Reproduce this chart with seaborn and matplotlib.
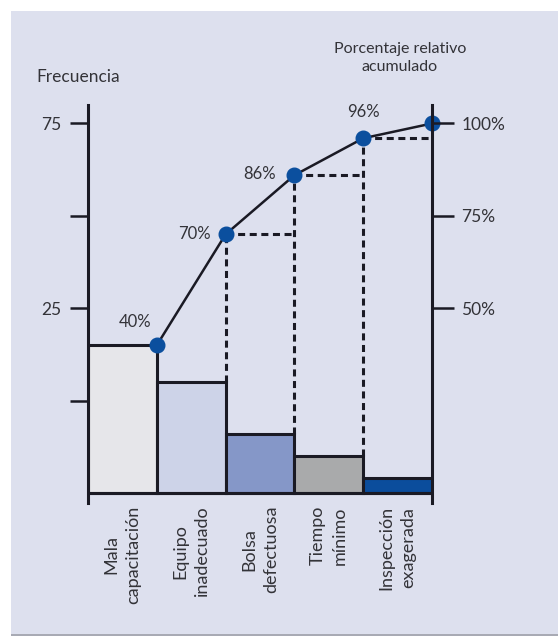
import matplotlib
matplotlib.use("Agg")
import matplotlib.pyplot as plt
from matplotlib.patches import Rectangle
import seaborn as sns
import numpy as np
import pandas as pd

# Pareto data: causes, relative share (%) and cumulative share (%)
causas = ["Mala\ncapacitación", "Equipo\ninadecuado", "Bolsa\ndefectuosa",
          "Tiempo\nmínimo", "Inspección\nexagerada"]
porcentaje = [40, 30, 16, 10, 4]
acumulado = [40, 70, 86, 96, 100]
etiquetas_acum = ["40%", "70%", "86%", "96%", ""]
colores = ["#e6e6ea", "#cdd3e8", "#8597c8", "#a9aaab", "#0b4d9c"]

ticks_pos = [100, 75, 50, 25]
ticks_frec = ["75", "", "25", ""]
ticks_der_pos = [100, 75, 50]
ticks_der = ["100%", "75%", "50%"]

sns.set_theme(style="white")
plt.rcParams["font.family"] = ["Lato", "DejaVu Sans"]

W, H = 558, 637
fig = plt.figure(figsize=(W / 100, H / 100), dpi=100, facecolor="white")

# panel background
fig.patches.append(Rectangle((11 / W, 3 / H), 1, 623 / H, transform=fig.transFigure,
                             facecolor="#dde0ee", edgecolor="none", zorder=-2))
fig.patches.append(Rectangle((11 / W, 1.5 / H), 1, 1.8 / H, transform=fig.transFigure,
                             facecolor="#a8aab4", edgecolor="none", zorder=-2))

ax = fig.add_axes([88 / W, 134 / H, 344 / W, 398 / H])
ax.set_facecolor("none")

ink = "#1a1a24"
txt = "#333338"

df = pd.DataFrame({"causa": causas, "pct": porcentaje})
sns.barplot(data=df, x="causa", y="pct", hue="causa", palette=colores, legend=False,
            saturation=1, width=1.0, edgecolor=ink, linewidth=2.2, ax=ax, zorder=2)

n = len(causas)
xr = np.arange(n) + 0.5

# dashed guides from each cumulative point
for i in range(1, n - 1):
    ax.plot([xr[i], xr[i]], [porcentaje[i], acumulado[i]], color=ink, lw=2.2,
            ls=(0, (2.3, 1.5)), zorder=3)
    ax.plot([xr[i], xr[i + 1]], [acumulado[i], acumulado[i]], color=ink, lw=2.2,
            ls=(0, (2.3, 1.5)), zorder=3)

# cumulative curve
ax.plot(xr, acumulado, color=ink, lw=1.8, zorder=4)
ax.plot(xr, acumulado, ls="none", marker="o", ms=10.5, mfc="#0b4f9e", mec="#0b4f9e",
        zorder=5, clip_on=False)

offsets = [(-4, 11), (-11, 0), (-13, 1), (0, 13), (0, 0)]
aligns = [("right", "bottom"), ("right", "center"), ("right", "center"),
          ("center", "bottom"), ("center", "center")]
for x, y, lab, off, (ha, va) in zip(xr, acumulado, etiquetas_acum, offsets, aligns):
    if lab:
        ax.annotate(lab, (x, y), xytext=off, textcoords="offset points",
                    ha=ha, va=va, fontsize=12, color=txt)

ax.axhline(0, color=ink, lw=2.2, zorder=6)
ax.set_xlim(-0.5, n - 0.5)
ax.set_ylim(-2.7, 105)

for s in ["top", "bottom"]:
    ax.spines[s].set_visible(False)
ax.spines["left"].set_color(ink)
ax.spines["left"].set_linewidth(2.2)
ax.spines["right"].set_visible(False)

ax.set_yticks(ticks_pos)
ax.set_yticklabels(ticks_frec)
ax.tick_params(axis="y", left=True, length=13, width=1.8, color=ink, pad=6,
               labelsize=12.5, labelcolor=txt)
ax.set_xlabel("")
ax.set_ylabel("")
ax.tick_params(axis="x", bottom=False, length=0, pad=2)
for t in ax.get_xticklabels():
    t.set_rotation(90)
    t.set_ha("center")
    t.set_va("top")
    t.set_multialignment("center")
    t.set_fontsize(13)
    t.set_linespacing(1.45)
    t.set_color(txt)

ax2 = ax.twinx()
ax2.set_ylim(ax.get_ylim())
for s in ["top", "bottom", "left"]:
    ax2.spines[s].set_visible(False)
ax2.spines["right"].set_color(ink)
ax2.spines["right"].set_linewidth(2.2)
ax2.set_yticks(ticks_der_pos)
ax2.set_yticklabels(ticks_der)
ax2.tick_params(axis="y", right=True, length=16, width=1.8, color=ink, pad=5,
                labelsize=12.5, labelcolor=txt)
ax2.grid(False)
ax.grid(False)

fig.text(36 / W, 1 - 77 / H, "Frecuencia", ha="left", va="center", fontsize=12.5, color=txt)
fig.text(400 / W, 1 - 58 / H, "Porcentaje relativo\nacumulado", ha="center", va="center",
         fontsize=11.5, color=txt, linespacing=1.3)

fig.savefig("out.png", dpi=100, facecolor="white")
